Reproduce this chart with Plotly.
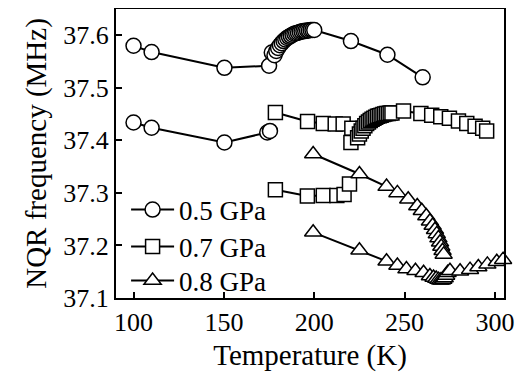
import plotly.graph_objects as go

# ---- data ----
t05_upper = [100, 110, 150.3, 175, 176.5, 178, 179, 180, 181, 182, 183, 184, 185, 186, 187, 188, 189, 190,
             191, 192, 193, 194, 195, 196, 197, 198, 199, 200, 220.3, 240.5, 260]
f05_upper = [37.580, 37.568, 37.538, 37.542, 37.567, 37.562, 37.570, 37.576, 37.581, 37.585, 37.589, 37.592,
             37.595, 37.597, 37.599, 37.601, 37.603, 37.604, 37.605, 37.606, 37.607, 37.608, 37.608, 37.609,
             37.609, 37.610, 37.610, 37.610, 37.589, 37.563, 37.520]
t05_lower = [100, 110, 150.3, 174, 175.5]
f05_lower = [37.434, 37.424, 37.396, 37.415, 37.418]

t07_upper = [178.5, 196.3, 205, 211.6, 216, 220.8, 220.3, 224, 225, 226, 227, 228, 229, 230, 231, 232, 233,
             234, 235, 236, 237, 238, 239, 240, 241, 242, 243, 249.4, 259, 265, 270, 274.8, 279.8, 284.4,
             289, 293.2, 295.4]
f07_upper = [37.453, 37.436, 37.432, 37.431, 37.431, 37.423, 37.396, 37.405, 37.412, 37.418, 37.423, 37.428,
             37.432, 37.435, 37.438, 37.440, 37.442, 37.444, 37.446, 37.447, 37.448, 37.449, 37.450, 37.451,
             37.451, 37.452, 37.452, 37.456, 37.451, 37.448, 37.445, 37.442, 37.437, 37.432, 37.427, 37.423,
             37.418]
t07_lower = [178.5, 196.2, 205, 212.5, 216.5, 219.5]
f07_lower = [37.306, 37.294, 37.295, 37.295, 37.297, 37.317]

t08_upper = [199.4, 225, 240, 246, 252, 257, 259.5, 262, 264, 265.5, 266.8, 267.8, 268.7, 269.6, 270.3,
             271, 271.6]
f08_upper = [37.374, 37.336, 37.312, 37.300, 37.288, 37.275, 37.266, 37.256, 37.246, 37.238, 37.230,
             37.222, 37.214, 37.206, 37.198, 37.190, 37.183]
t08_lower = [199.4, 225, 240, 246, 251, 256, 260.5, 264, 266, 267.5, 268.7, 269.7, 270.6, 271.4, 272.2,
             273, 273.8, 275.1, 280.7, 286.2, 290.8, 295.8, 301, 304.5]
f08_lower = [37.225, 37.191, 37.170, 37.162, 37.155, 37.152, 37.148, 37.142, 37.139, 37.137, 37.135,
             37.134, 37.134, 37.135, 37.138, 37.143, 37.148, 37.152, 37.151, 37.154, 37.159, 37.164,
             37.169, 37.173]

x_ticks = [100, 150, 200, 250, 300]
y_ticks = [37.1, 37.2, 37.3, 37.4, 37.5, 37.6]
labels = ["0.5 GPa", "0.7 GPa", "0.8 GPa"]

FONT = "Liberation Serif, Times New Roman, serif"
series = [
    (labels[0], "circle", 15, "legend", [(t05_upper, f05_upper), (t05_lower, f05_lower)]),
    (labels[1], "square", 14, "legend2", [(t07_upper, f07_upper), (t07_lower, f07_lower)]),
    (labels[2], "triangle-up", 15, "legend3", [(t08_upper, f08_upper), (t08_lower, f08_lower)]),
]

fig = go.Figure()
for name, sym, size, leg, branches in series:
    for i, (xs, ys) in enumerate(branches):
        fig.add_trace(go.Scatter(
            x=xs, y=ys, mode="lines+markers", name=name, legend=leg,
            showlegend=(i == 0), cliponaxis=False,
            line=dict(color="black", width=2),
            marker=dict(symbol=sym, size=size, color="white",
                        line=dict(color="black", width=1.5)),
        ))

axis_common = dict(showline=True, linecolor="black", linewidth=2, mirror=True,
                   ticks="inside", ticklen=6, tickwidth=1.5, tickcolor="black",
                   showgrid=False, zeroline=False, automargin=False,
                   tickfont=dict(family=FONT, size=26, color="black"))

fig.update_xaxes(range=[90.3, 305], tickvals=x_ticks,
                 title=dict(text="Temperature (K)", font=dict(family=FONT, size=29, color="black"),
                            standoff=8),
                 **axis_common)
fig.update_yaxes(range=[37.1, 37.65], tickvals=y_ticks, tickformat=".1f",
                 title=dict(text="NQR frequency (MHz)", font=dict(family=FONT, size=29, color="black"),
                            standoff=8),
                 **axis_common)

leg_common = dict(xanchor="left", yanchor="middle", bgcolor="rgba(0,0,0,0)", borderwidth=0,
                  itemwidth=43, font=dict(family=FONT, size=27, color="black"))
fig.update_layout(
    width=518, height=375,
    margin=dict(l=108, r=22, t=1, b=85),
    paper_bgcolor="white", plot_bgcolor="white",
    font=dict(family=FONT, color="black"),
    showlegend=True,
    legend=dict(x=0.026, y=(298 - 210) / 289, **leg_common),
    legend2=dict(x=0.026, y=(298 - 247) / 289, **leg_common),
    legend3=dict(x=0.026, y=(298 - 281) / 289, **leg_common),
)

fig.write_html("out.html")
